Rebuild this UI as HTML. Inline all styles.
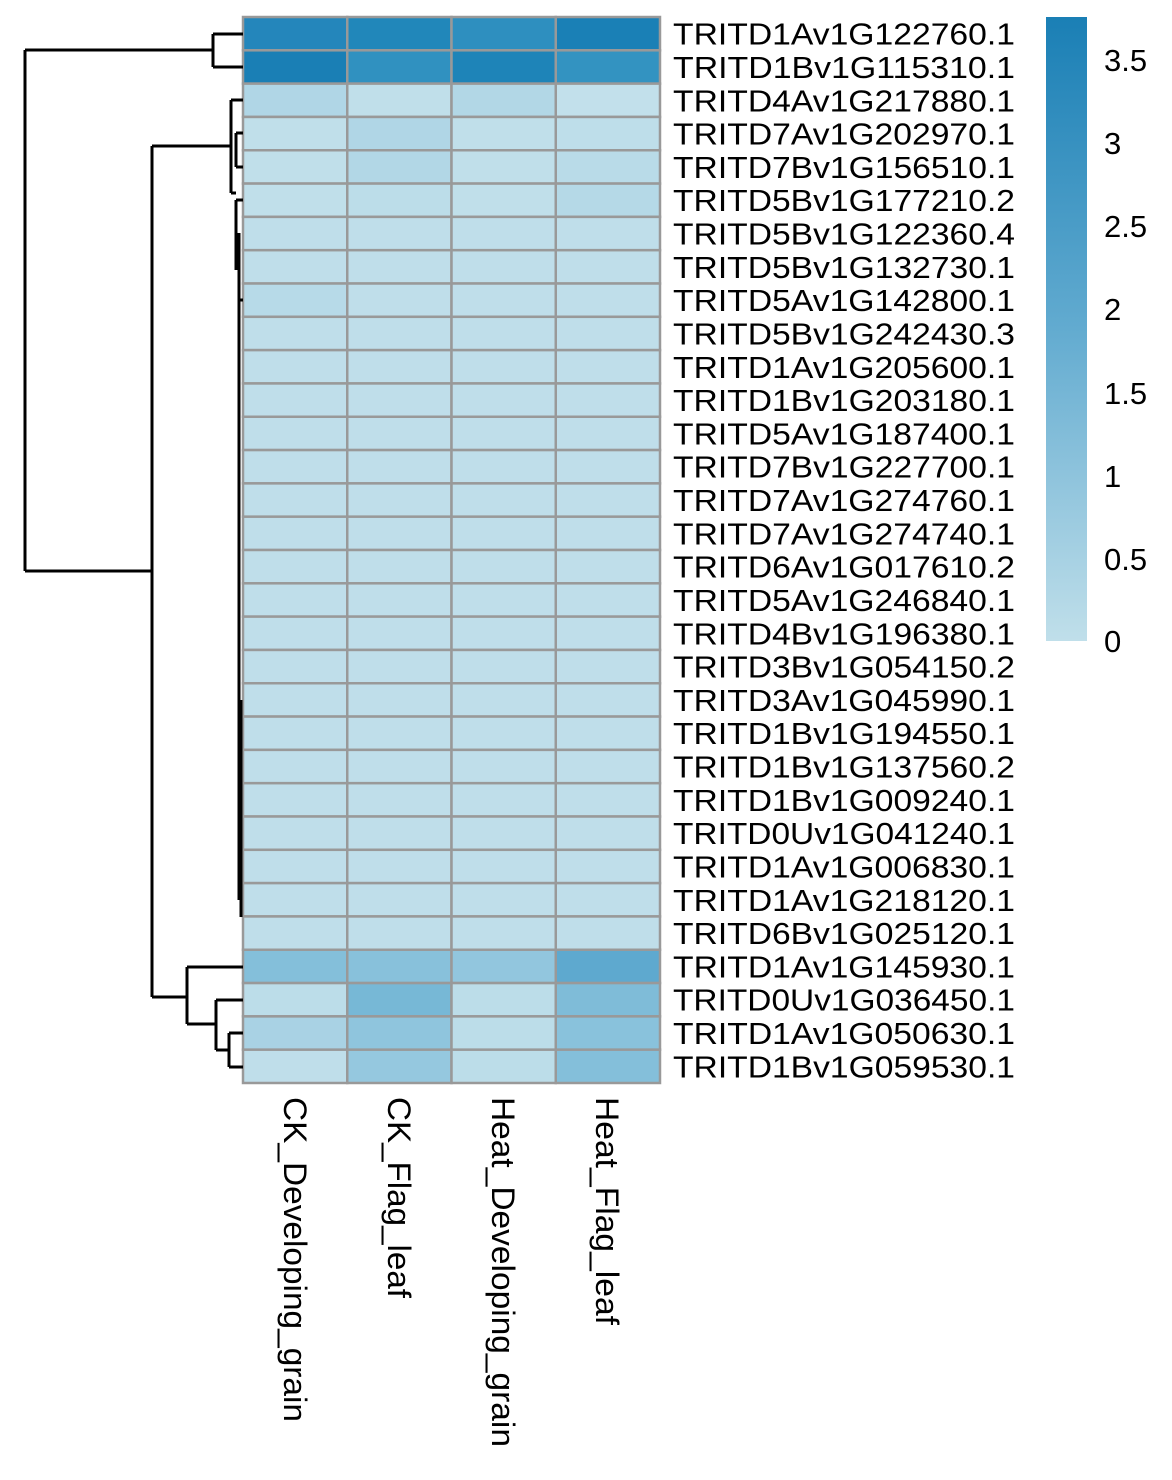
<!DOCTYPE html>
<html><head><meta charset="utf-8"><style>body{margin:0;background:#fff}</style></head><body>
<svg width="1172" height="1475" xmlns="http://www.w3.org/2000/svg" font-family="Liberation Sans, sans-serif">
<defs><linearGradient id="g" x1="0" y1="0" x2="0" y2="1"><stop offset="0" stop-color="#1a7fb5"/><stop offset="0.5" stop-color="#62abd0"/><stop offset="1" stop-color="#c0dfea"/></linearGradient></defs>
<g id="cells"></g>
<g stroke="#000" stroke-width="3" fill="none">
<path d="M213,34H243M213,67H243M213,34V67M25,50H213M25,50V571M25,571H152M152,146V997"/>
<path d="M152,146H231M231,100V193M231,100H243M231,193H236M236,133H243M236,133V167M236,167H243M236,200V270M236,200H243M239,233V900M239,300H243M241,700V917"/>
<path d="M152,997H187M187,967V1024M187,967H243M187,1024H216M216,1000V1050M216,1000H243M216,1050H229M229,1033V1067M229,1033H243M229,1067H243"/>
</g>
<rect x="1046" y="17" width="41" height="624" fill="url(#g)"/>
<g font-size="31" fill="#000">
<text x="1104" y="71">3.5</text><text x="1104" y="154">3</text><text x="1104" y="237">2.5</text><text x="1104" y="320">2</text><text x="1104" y="404">1.5</text><text x="1104" y="487">1</text><text x="1104" y="570">0.5</text><text x="1104" y="652">0</text>
</g>
<g id="rl" font-size="31" fill="#000"></g>
<g font-size="32" fill="#000">
<text transform="translate(284,1097) rotate(90)" textLength="325" lengthAdjust="spacingAndGlyphs">CK_Developing_grain</text>
<text transform="translate(388,1097) rotate(90)" textLength="201" lengthAdjust="spacingAndGlyphs">CK_Flag_leaf</text>
<text transform="translate(492,1097) rotate(90)" textLength="350" lengthAdjust="spacingAndGlyphs">Heat_Developing_grain</text>
<text transform="translate(596,1097) rotate(90)" textLength="228" lengthAdjust="spacingAndGlyphs">Heat_Flag_leaf</text>
</g>
</svg>
<script>
var names=["TRITD1Av1G122760.1","TRITD1Bv1G115310.1","TRITD4Av1G217880.1","TRITD7Av1G202970.1","TRITD7Bv1G156510.1","TRITD5Bv1G177210.2","TRITD5Bv1G122360.4","TRITD5Bv1G132730.1","TRITD5Av1G142800.1","TRITD5Bv1G242430.3","TRITD1Av1G205600.1","TRITD1Bv1G203180.1","TRITD5Av1G187400.1","TRITD7Bv1G227700.1","TRITD7Av1G274760.1","TRITD7Av1G274740.1","TRITD6Av1G017610.2","TRITD5Av1G246840.1","TRITD4Bv1G196380.1","TRITD3Bv1G054150.2","TRITD3Av1G045990.1","TRITD1Bv1G194550.1","TRITD1Bv1G137560.2","TRITD1Bv1G009240.1","TRITD0Uv1G041240.1","TRITD1Av1G006830.1","TRITD1Av1G218120.1","TRITD6Bv1G025120.1","TRITD1Av1G145930.1","TRITD0Uv1G036450.1","TRITD1Av1G050630.1","TRITD1Bv1G059530.1"];
var d="#bfdeea",cols={0:["#2486bb","#2187ba","#2e8fbf","#1a80b6"],1:["#1a7fb5","#3091c0","#1e84b8","#3393c1"],2:["#b0d6e6","#c0dfea","#b2d7e6","#c2e0eb"],3:["#c0dfea","#b0d6e6","#c0dfea","#bedeea"],4:["#c0dfea","#b2d7e6","#c0dfea","#b9dbe8"],5:["#c0dfea","#bcdde9","#c0dfea","#b5d9e7"],8:["#b7dae8","#bfdeea","#bfdeea","#bfdeea"],28:["#84bfda","#88c1db","#92c6de","#5ea9cf"],29:["#bcdde9","#77b8d6","#bcdde9","#7fbcd8"],30:["#a9d2e4","#8fc5dd","#bcdde9","#89c2dc"],31:["#bfdeea","#95c8df","#bcdde9","#84bfda"]};
var s="",t="",h=1066/32;
for(var i=0;i<32;i++){var y=17+i*h,c=cols[i]||[d,d,d,d];
for(var j=0;j<4;j++)s+='<rect x="'+(243+j*104.25)+'" y="'+y+'" width="104.25" height="'+h+'" fill="'+c[j]+'" stroke="#999" stroke-width="2.5"/>';
t+='<text x="673" y="'+(y+h/2+11)+'" textLength="342" lengthAdjust="spacingAndGlyphs">'+names[i]+'</text>';}
document.getElementById("cells").innerHTML=s;document.getElementById("rl").innerHTML=t;
</script>
</body></html>
